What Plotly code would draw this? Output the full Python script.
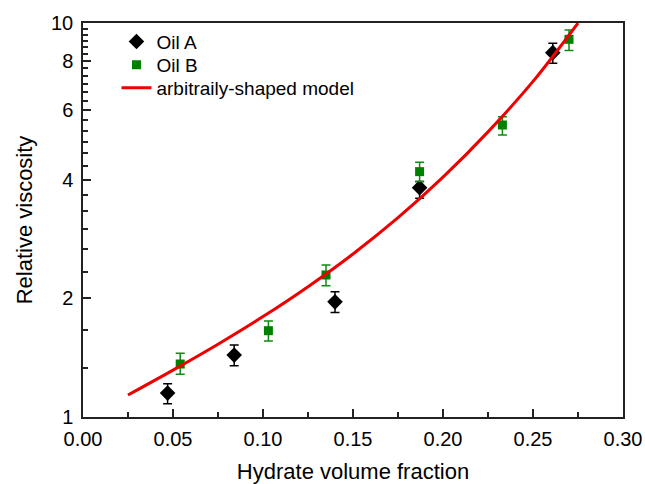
import plotly.graph_objects as go

# Oil A (black diamonds)
oil_a_x = [0.047, 0.084, 0.140, 0.187, 0.261]
oil_a_y = [1.15, 1.436, 1.96, 3.82, 8.41]
oil_a_err_plus = [0.065, 0.087, 0.12, 0.14, 0.47]
oil_a_err_minus = [0.07, 0.086, 0.118, 0.23, 0.51]

# Oil B (green squares)
oil_b_x = [0.054, 0.103, 0.135, 0.187, 0.233, 0.270]
oil_b_y = [1.363, 1.656, 2.293, 4.195, 5.51, 9.09]
oil_b_err_plus = [0.088, 0.097, 0.137, 0.235, 0.27, 0.51]
oil_b_err_minus = [0.08, 0.097, 0.139, 0.235, 0.31, 0.58]

# arbitrarily-shaped model curve
model_x = [0.025, 0.05, 0.075, 0.10, 0.125, 0.15, 0.175, 0.20, 0.225, 0.25, 0.275]
model_y = [1.137, 1.315, 1.530, 1.798, 2.142, 2.593, 3.205, 4.062, 5.293, 7.108, 10.0]

x_tickvals = [0.00, 0.05, 0.10, 0.15, 0.20, 0.25, 0.30]
x_ticktext = ["0.00", "0.05", "0.10", "0.15", "0.20", "0.25", "0.30"]
y_tickvals = [1, 2, 4, 6, 8, 10]
y_ticktext = ["1", "2", "4", "6", "8", "10"]
y_minor = [1 + k / 3 for k in range(28)]

font = "Liberation Sans, Arial, sans-serif"
axcol = "#222222"

fig = go.Figure()
fig.add_trace(go.Scatter(
    x=oil_a_x, y=oil_a_y, mode="markers", name="Oil A", legend="legend",
    marker=dict(symbol="diamond", size=12, color="black"),
    error_y=dict(type="data", array=oil_a_err_plus, arrayminus=oil_a_err_minus,
                 color="black", thickness=1.5, width=4.5),
))
fig.add_trace(go.Scatter(
    x=oil_b_x, y=oil_b_y, mode="markers", name="Oil B", legend="legend2",
    marker=dict(symbol="square", size=9, color="#008000"),
    error_y=dict(type="data", array=oil_b_err_plus, arrayminus=oil_b_err_minus,
                 color="#108a10", thickness=1.5, width=4.5),
))
fig.add_trace(go.Scatter(
    x=model_x, y=model_y, mode="lines", name="arbitraily-shaped model", legend="legend3",
    line=dict(color="#ee0000", width=3, shape="spline", smoothing=1.0),
))

leg_common = dict(x=0.062, xanchor="left", yanchor="middle",
                  font=dict(size=19, family=font), bgcolor="rgba(0,0,0,0)",
                  itemwidth=30)

fig.update_layout(
    width=645, height=484,
    margin=dict(l=83, r=22, t=23, b=67, autoexpand=False),
    paper_bgcolor="white", plot_bgcolor="white",
    font=dict(family=font, size=20, color="black"),
    showlegend=True,
    legend=dict(y=0.9525, **leg_common),
    legend2=dict(y=0.8934, **leg_common),
    legend3=dict(y=0.835, **leg_common),
    xaxis=dict(
        range=[0, 0.30], tickmode="array", tickvals=x_tickvals, ticktext=x_ticktext,
        ticks="inside", ticklen=8, tickwidth=1.5, tickcolor=axcol,
        minor=dict(tickmode="array", tickvals=[0.025, 0.075, 0.125, 0.175, 0.225, 0.275],
                   ticks="inside", ticklen=5, tickwidth=1.5, tickcolor=axcol),
        showline=True, linecolor=axcol, linewidth=1.5, mirror=True,
        showgrid=False, zeroline=False, automargin=False,
        ticklabelstandoff=3,
        title=dict(text="Hydrate volume fraction", font=dict(size=22), standoff=18),
        tickfont=dict(size=20),
    ),
    yaxis=dict(
        type="log", range=[0, 1], tickmode="array", tickvals=y_tickvals, ticktext=y_ticktext,
        ticks="inside", ticklen=8, tickwidth=1.5, tickcolor=axcol,
        minor=dict(tickmode="array", tickvals=y_minor,
                   ticks="inside", ticklen=5, tickwidth=1.5, tickcolor=axcol),
        showline=True, linecolor=axcol, linewidth=1.5, mirror=True,
        showgrid=False, zeroline=False, automargin=False,
        ticklabelstandoff=4,
        title=dict(text="Relative viscosity", font=dict(size=22), standoff=12),
        tickfont=dict(size=20),
    ),
)

fig.write_html("out.html")
